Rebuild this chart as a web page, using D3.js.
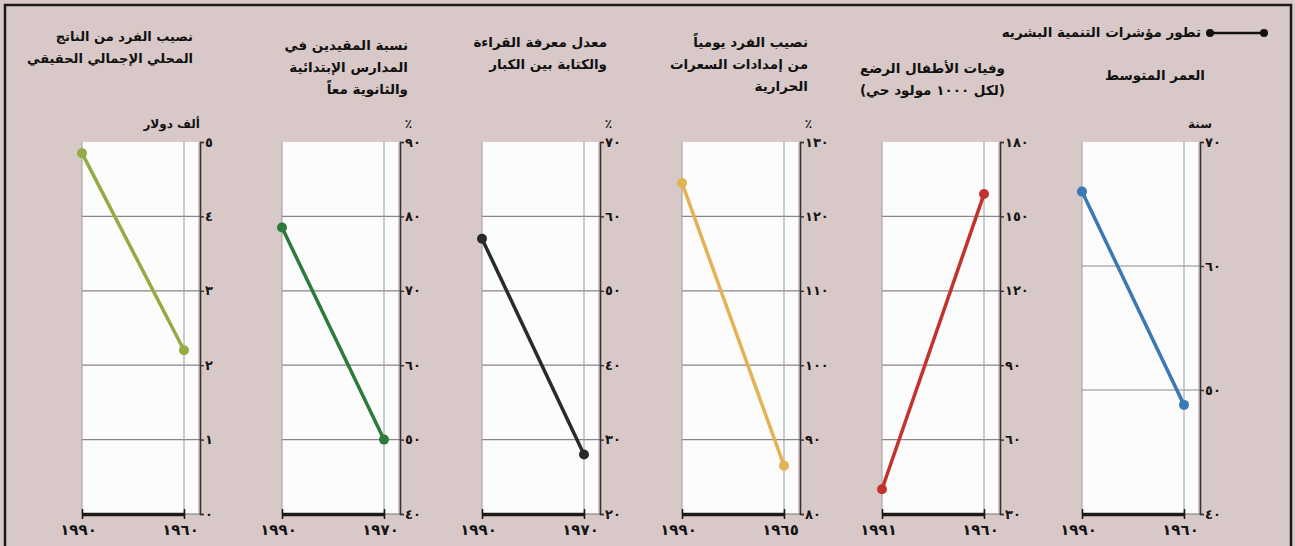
<!DOCTYPE html>
<html><head><meta charset="utf-8">
<script src="https://cdn.jsdelivr.net/npm/d3@7"></script>
<style>body{margin:0;background:#fff} svg{display:block}</style>
</head><body><svg id="c" width="1295" height="546"></svg>
<script>
// ---- data ----
const chartTitle = "تطور مؤشرات التنمية البشريه";
const titleLines = [
  ["نصيب الفرد من الناتج", "المحلي الإجمالي الحقيقي"],
  ["نسبة المقيدين في", "المدارس الإبتدائية", "والثانوية معاً"],
  ["معدل معرفة القراءة", "والكتابة بين الكبار"],
  ["نصيب الفرد يومياً", "من إمدادات السعرات", "الحرارية"],
  ["وفيات الأطفال الرضع", "(لكل ١٠٠٠ مولود حي)"],
  ["العمر المتوسط"]
];
const units = ["ألف دولار", "٪", "٪", "٪", "", "سنة"];
const recentYears = [1990, 1990, 1990, 1990, 1991, 1990];
const earlyYears = [1960, 1970, 1970, 1965, 1960, 1960];
const recentValues = [4.85, 78.5, 57, 124.5, 40, 66];
const earlyValues = [2.2, 50, 28, 86.5, 159, 48.8];
const axisMin = [0, 40, 20, 80, 30, 40];
const axisMax = [5, 90, 70, 130, 180, 70];
const tickStep = [1, 10, 10, 10, 30, 10];
const colors = ["#93ab43", "#2e7a3c", "#2a2a2a", "#e3b252", "#c3322c", "#3b79b4"];

// ---- layout ----
const W = 1295, H = 546;
const plotTop = 142, plotBottom = 514;
const titleTop = [36, 45, 42, 42, 68, 75];
const titleRight = [-7, 8, 7, 8, 5, 5];
const titleSize = [13, 13.5, 13.5, 13.5, 13.5, 13.5];
const lineGap = 22;
const font = "'DejaVu Sans', sans-serif";
const ar = n => String(n).replace(/\d/g, c => "٠١٢٣٤٥٦٧٨٩"[+c]);

const svg = d3.select("#c");
svg.append("rect").attr("width", W).attr("height", H).attr("fill", "#d8c9c8");
svg.append("rect").attr("x", 5).attr("y", 5).attr("width", W - 9).attr("height", H + 10)
  .attr("fill", "none").attr("stroke", "#1a1a1a").attr("stroke-width", 2.5);

// header
svg.append("text").attr("x", 1201).attr("y", 37).attr("direction", "rtl").attr("text-anchor", "start")
  .attr("font-family", font).attr("font-weight", "bold").attr("font-size", 13.5).attr("fill", "#111")
  .text(chartTitle);
svg.append("line").attr("x1", 1210).attr("x2", 1264).attr("y1", 33).attr("y2", 33)
  .attr("stroke", "#111").attr("stroke-width", 2.5);
svg.selectAll(".lgd").data([1210, 1264]).enter().append("circle")
  .attr("cx", d => d).attr("cy", 33).attr("r", 4).attr("fill", "#111");

titleLines.forEach((lines, i) => {
  const ax = 200 + 200 * i;
  const g = svg.append("g");
  const y = d3.scaleLinear().domain([axisMin[i], axisMax[i]]).range([plotBottom, plotTop]);
  const x = d3.scalePoint().domain([recentYears[i], earlyYears[i]]).range([ax - 118, ax - 16]);
  const ticks = d3.range(axisMin[i], axisMax[i] + tickStep[i] / 2, tickStep[i]);

  // white plot area
  g.append("rect").attr("x", ax - 118).attr("y", plotTop).attr("width", 116).attr("height", plotBottom - plotTop)
    .attr("fill", "#fcfcfc");
  // gridlines
  g.selectAll(".hg").data(ticks.filter(t => t > axisMin[i] && t < axisMax[i])).enter().append("line")
    .attr("x1", ax - 118).attr("x2", ax).attr("y1", d => y(d)).attr("y2", d => y(d))
    .attr("stroke", "#8a8585").attr("stroke-width", 1.2);
  g.selectAll(".vg").data(x.domain()).enter().append("line")
    .attr("x1", d => x(d)).attr("x2", d => x(d)).attr("y1", plotTop).attr("y2", plotBottom)
    .attr("stroke", "#a09a9a").attr("stroke-width", 1);
  g.append("line").attr("x1", x(earlyYears[i])).attr("x2", ax).attr("y1", plotBottom).attr("y2", plotBottom)
    .attr("stroke", "#777").attr("stroke-width", 1);

  // y axis
  const yAxis = g.append("g").attr("transform", `translate(${ax},0)`)
    .call(d3.axisRight(y).tickValues(ticks).tickSize(4).tickSizeOuter(4).tickPadding(1).tickFormat(ar));
  yAxis.select(".domain").attr("stroke", "#333").attr("stroke-width", 1.6);
  yAxis.selectAll(".tick line").attr("stroke", "#333").attr("stroke-width", 1.4);
  yAxis.selectAll(".tick text").attr("font-family", font).attr("font-weight", "bold")
    .attr("font-size", 13).attr("letter-spacing", 1).attr("fill", "#151515");

  // x axis
  const xAxis = g.append("g").attr("transform", `translate(0,${plotBottom})`)
    .call(d3.axisBottom(x).tickSize(5).tickSizeOuter(0).tickPadding(5).tickFormat(ar));
  xAxis.select(".domain").attr("stroke", "#1a1a1a").attr("stroke-width", 3.5);
  xAxis.selectAll(".tick line").attr("stroke", "#1a1a1a").attr("stroke-width", 1.6).attr("y1", -5);
  xAxis.selectAll(".tick text").attr("font-family", font).attr("font-weight", "bold")
    .attr("font-size", 15).attr("letter-spacing", 2).attr("dx", -4).attr("fill", "#151515");

  // series
  const pts = [[recentYears[i], recentValues[i]], [earlyYears[i], earlyValues[i]]];
  g.append("path").datum(pts)
    .attr("d", d3.line().x(d => x(d[0])).y(d => y(d[1])))
    .attr("fill", "none").attr("stroke", colors[i]).attr("stroke-width", 3.5);
  g.selectAll(".pt").data(pts).enter().append("circle")
    .attr("cx", d => x(d[0])).attr("cy", d => y(d[1])).attr("r", 5).attr("fill", colors[i]);

  // titles
  lines.forEach((t, k) => {
    g.append("text").attr("x", ax + titleRight[i]).attr("y", titleTop[i] + 5 + k * lineGap)
      .attr("direction", "rtl").attr("text-anchor", "start")
      .attr("font-family", font).attr("font-weight", "bold").attr("font-size", titleSize[i]).attr("fill", "#111")
      .text(t);
  });
  if (units[i]) {
    g.append("text").attr("x", ax + (i === 0 ? 0 : 12)).attr("y", 128).attr("direction", "rtl").attr("text-anchor", "start")
      .attr("font-family", font).attr("font-weight", "bold").attr("font-size", 12).attr("fill", "#111")
      .text(units[i]);
  }
});
</script></body></html>
